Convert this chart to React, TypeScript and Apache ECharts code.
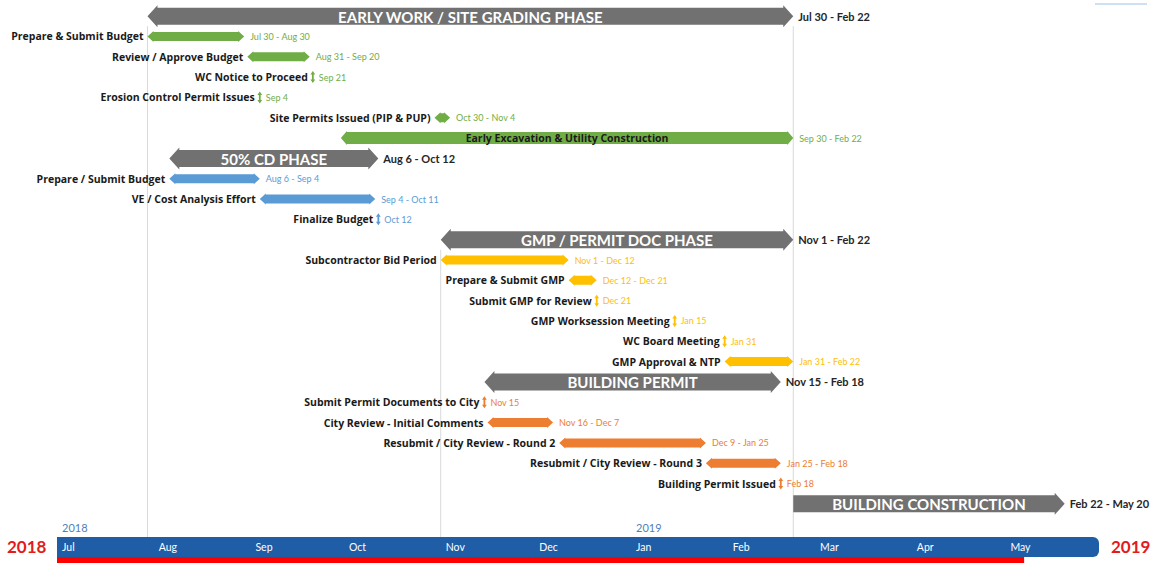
import React, { useEffect, useRef } from "react";
import * as echarts from "echarts";

const MONTH_NAMES = ["Jan", "Feb", "Mar", "Apr", "May", "Jun", "Jul", "Aug", "Sep", "Oct", "Nov", "Dec"];

const taskNames = [
  "EARLY WORK / SITE GRADING PHASE",
  "Prepare & Submit Budget",
  "Review / Approve Budget",
  "WC Notice to Proceed",
  "Erosion Control Permit Issues",
  "Site Permits Issued (PIP & PUP)",
  "Early Excavation & Utility Construction",
  "50% CD PHASE",
  "Prepare / Submit Budget",
  "VE / Cost Analysis Effort",
  "Finalize Budget",
  "GMP / PERMIT DOC PHASE",
  "Subcontractor Bid Period",
  "Prepare & Submit GMP",
  "Submit GMP for Review",
  "GMP Worksession Meeting",
  "WC Board Meeting",
  "GMP Approval & NTP",
  "BUILDING PERMIT",
  "Submit Permit Documents to City",
  "City Review - Initial Comments",
  "Resubmit / City Review - Round 2",
  "Resubmit / City Review - Round 3",
  "Building Permit Issued",
  "BUILDING CONSTRUCTION",
];

const taskStarts = [
  "2018-07-30", "2018-07-30", "2018-08-31", "2018-09-21", "2018-09-04", "2018-10-30", "2018-09-30",
  "2018-08-06", "2018-08-06", "2018-09-04", "2018-10-12",
  "2018-11-01", "2018-11-01", "2018-12-12", "2018-12-21", "2019-01-15", "2019-01-31", "2019-01-31",
  "2018-11-15", "2018-11-15", "2018-11-16", "2018-12-09", "2019-01-25", "2019-02-18",
  "2019-02-22",
];

const taskEnds = [
  "2019-02-22", "2018-08-30", "2018-09-20", "2018-09-21", "2018-09-04", "2018-11-04", "2019-02-22",
  "2018-10-12", "2018-09-04", "2018-10-11", "2018-10-12",
  "2019-02-22", "2018-12-12", "2018-12-21", "2018-12-21", "2019-01-15", "2019-01-31", "2019-02-22",
  "2019-02-18", "2018-11-15", "2018-12-07", "2019-01-25", "2019-02-18", "2019-02-18",
  "2019-05-20",
];

// phase | task | milestone | inner | final
const taskKinds = [
  "phase", "task", "task", "milestone", "milestone", "task", "inner",
  "phase", "task", "task", "milestone",
  "phase", "task", "task", "milestone", "milestone", "milestone", "task",
  "phase", "milestone", "task", "task", "task", "milestone",
  "final",
];

const taskGroups = [
  "gray", "green", "green", "green", "green", "green", "green",
  "gray", "blue", "blue", "blue",
  "gray", "yellow", "yellow", "yellow", "yellow", "yellow", "yellow",
  "gray", "orange", "orange", "orange", "orange", "orange",
  "gray",
];

const groupColors: Record<string, string> = {
  gray: "#717171",
  green: "#70AD47",
  blue: "#5B9BD5",
  yellow: "#FFC000",
  orange: "#ED7D31",
};

const markerDates = ["2018-07-30", "2018-11-01", "2019-02-22"];
const markerStartRows = [0, 11, 0];

const timelineStart = "2018-07-01";
const timelineEnd = "2019-05-31";
const progressDate = "2019-05-07";

const monthTicks = [
  "2018-07-01", "2018-08-01", "2018-09-01", "2018-10-01", "2018-11-01", "2018-12-01",
  "2019-01-01", "2019-02-01", "2019-03-01", "2019-04-01", "2019-05-01",
];
const monthLabels = ["Jul", "Aug", "Sep", "Oct", "Nov", "Dec", "Jan", "Feb", "Mar", "Apr", "May"];
const yearTicks = ["2018-07-01", "2019-01-01"];
const yearLabels = ["2018", "2019"];

const FONT = "Lato, 'Liberation Sans', sans-serif";
const LABEL_FONT = "'Open Sans', Lato, sans-serif";

function toMs(s: string): number {
  const [y, m, d] = s.split("-").map(Number);
  return new Date(y, m - 1, d).getTime();
}
function fmt(s: string): string {
  const [, m, d] = s.split("-").map(Number);
  return MONTH_NAMES[m - 1] + " " + d;
}

export default function App() {
  const ref = useRef<HTMLDivElement>(null);

  useEffect(() => {
    if (!ref.current) return;
    const chart = echarts.init(ref.current, undefined, { renderer: "svg" });

    const taskData = taskNames.map((_, i) => [i, toMs(taskStarts[i]), toMs(taskEnds[i])]);
    const markerData = markerDates.map((d, i) => [markerStartRows[i], toMs(d)]);

    const leftLabel = (x: number, y: number, text: string) => ({
      type: "text", x, y,
      style: { text, align: "right", verticalAlign: "middle", fill: "#1a1a1a", fontSize: 10.5, fontWeight: "bold", fontFamily: LABEL_FONT },
    });
    const dateLabel = (x: number, y: number, text: string, color: string) => ({
      type: "text", x, y,
      style: { text, align: "left", verticalAlign: "middle", fill: color, fontSize: 9, fontFamily: FONT },
    });

    const renderTask = (params: any, api: any) => {
      const i = params.dataIndex;
      const s = api.coord([api.value(1), i]);
      const e = api.coord([api.value(2), i]);
      const y = s[1];
      const x0 = s[0];
      const x1 = e[0];
      const kind = taskKinds[i];
      const color = groupColors[taskGroups[i]];
      const children: any[] = [];
      const dateText =
        kind === "milestone" ? fmt(taskStarts[i]) : fmt(taskStarts[i]) + " - " + fmt(taskEnds[i]);

      if (kind === "milestone") {
        const pts = [
          [x0, y - 6], [x0 + 2.4, y - 2.5], [x0 + 0.9, y - 2.5], [x0 + 0.9, y + 2.5], [x0 + 2.4, y + 2.5],
          [x0, y + 6], [x0 - 2.4, y + 2.5], [x0 - 0.9, y + 2.5], [x0 - 0.9, y - 2.5], [x0 - 2.4, y - 2.5],
        ];
        children.push({ type: "polygon", shape: { points: pts }, style: { fill: color } });
        children.push(leftLabel(x0 - 5, y, taskNames[i]));
        children.push(dateLabel(x0 + 6, y, dateText, color));
      } else if (kind === "phase" || kind === "final") {
        const H = 11, sh = 8.5, h = 10;
        const pts =
          kind === "phase"
            ? [
                [x0, y], [x0 + h, y - H], [x0 + h, y - sh], [x1 - h, y - sh], [x1 - h, y - H], [x1, y],
                [x1 - h, y + H], [x1 - h, y + sh], [x0 + h, y + sh], [x0 + h, y + H],
              ]
            : [
                [x0, y - sh], [x1 - h, y - sh], [x1 - h, y - H], [x1, y], [x1 - h, y + H], [x1 - h, y + sh], [x0, y + sh],
              ];
        children.push({ type: "polygon", shape: { points: pts }, style: { fill: color } });
        children.push({
          type: "text", x: (x0 + x1) / 2, y: y + 0.5,
          style: { text: taskNames[i], align: "center", verticalAlign: "middle", fill: "#ffffff", fontSize: 15, fontWeight: "bold", fontFamily: FONT },
        });
        children.push({
          type: "text", x: x1 + 5, y,
          style: { text: dateText, align: "left", verticalAlign: "middle", fill: "#262626", fontSize: 11, fontWeight: "bold", fontFamily: FONT },
        });
      } else {
        const inner = kind === "inner";
        const H = inner ? 7 : 5.5, sh = inner ? 6 : 4.5, h = 6;
        const pts = [
          [x0, y], [x0 + h, y - H], [x0 + h, y - sh], [x1 - h, y - sh], [x1 - h, y - H], [x1, y],
          [x1 - h, y + H], [x1 - h, y + sh], [x0 + h, y + sh], [x0 + h, y + H],
        ];
        children.push({ type: "polygon", shape: { points: pts }, style: { fill: color } });
        if (inner) {
          children.push({
            type: "text", x: (x0 + x1) / 2, y,
            style: { text: taskNames[i], align: "center", verticalAlign: "middle", fill: "#1a1a1a", fontSize: 10.5, fontWeight: "bold", fontFamily: LABEL_FONT },
          });
        } else {
          children.push(leftLabel(x0 - 4, y, taskNames[i]));
        }
        children.push(dateLabel(x1 + 6, y, dateText, color));
      }
      return { type: "group", children };
    };

    const renderMarker = (params: any, api: any) => {
      const top = api.coord([api.value(1), api.value(0)]);
      const bottomY = api.getHeight() - 26;
      return {
        type: "line",
        shape: { x1: top[0], y1: top[1] + 10, x2: top[0], y2: bottomY },
        style: { stroke: "#d9d9d9", lineWidth: 1 },
      };
    };

    const tlMin = toMs(timelineStart);
    const tlMax = toMs(timelineEnd);

    const renderTimeline = (params: any, api: any) => {
      const a = api.coord([tlMin, 0]);
      const b = api.coord([tlMax, 0]);
      const p = api.coord([toMs(progressDate), 0]);
      const top = a[1] - 20;
      return {
        type: "group",
        children: [
          {
            type: "rect",
            shape: { x: a[0], y: top, width: b[0] - a[0], height: 20, r: [0, 6, 6, 0] },
            style: { fill: "#1F5DA6" },
          },
          {
            type: "rect",
            shape: { x: a[0], y: top + 20, width: p[0] - a[0], height: 7 },
            style: { fill: "#FF0000" },
          },
        ],
      };
    };

    const monthData = monthTicks.map((d, i) => [toMs(d), i]);
    const renderMonth = (params: any, api: any) => {
      const i = params.dataIndex;
      const c = api.coord([api.value(0), 0.5]);
      return {
        type: "text", x: c[0] + 5, y: c[1],
        style: { text: monthLabels[i], align: "left", verticalAlign: "middle", fill: "#ffffff", fontSize: 10.5, fontFamily: FONT },
      };
    };
    const yearData = yearTicks.map((d, i) => [toMs(d), i]);
    const renderYear = (params: any, api: any) => {
      const i = params.dataIndex;
      const c = api.coord([api.value(0), 1]);
      return {
        type: "text", x: c[0] + 5, y: c[1] - 10,
        style: { text: yearLabels[i], align: "left", verticalAlign: "middle", fill: "#4F7FB5", fontSize: 11, fontFamily: FONT },
      };
    };

    chart.setOption({
      animation: false,
      backgroundColor: "#ffffff",
      grid: [
        { left: 57, right: 55, top: 6, bottom: 49 },
        { left: 57, right: 55, top: 537, height: 20 },
      ],
      xAxis: [
        { type: "time", gridIndex: 0, min: tlMin, max: tlMax, show: false },
        { type: "time", gridIndex: 1, min: tlMin, max: tlMax, show: false },
      ],
      yAxis: [
        { type: "category", gridIndex: 0, data: taskNames, inverse: true, show: false },
        { type: "value", gridIndex: 1, min: 0, max: 1, show: false },
      ],
      graphic: [
        {
          type: "text", left: 7, top: 538,
          style: { text: "2018", fill: "#E31B1B", fontSize: 17, fontWeight: "bold", fontFamily: FONT },
        },
        {
          type: "text", left: 1111, top: 538,
          style: { text: "2019", fill: "#E31B1B", fontSize: 17, fontWeight: "bold", fontFamily: FONT },
        },
        {
          type: "line", shape: { x1: 1095, y1: 4, x2: 1147, y2: 4 },
          style: { stroke: "#9DC3E6", lineWidth: 1 },
        },
      ],
      series: [
        {
          type: "custom", xAxisIndex: 0, yAxisIndex: 0, renderItem: renderMarker,
          data: markerData, encode: { x: 1, y: 0 }, z: 1, silent: true,
        },
        {
          type: "custom", xAxisIndex: 0, yAxisIndex: 0, renderItem: renderTask,
          data: taskData, encode: { x: [1, 2], y: 0 }, z: 5, silent: true,
        },
        {
          type: "custom", xAxisIndex: 1, yAxisIndex: 1, renderItem: renderTimeline,
          data: [[tlMin, 0]], encode: { x: 0, y: 1 }, z: 2, silent: true,
        },
        {
          type: "custom", xAxisIndex: 1, yAxisIndex: 1, renderItem: renderMonth,
          data: monthData, encode: { x: 0 }, z: 6, silent: true,
        },
        {
          type: "custom", xAxisIndex: 1, yAxisIndex: 1, renderItem: renderYear,
          data: yearData, encode: { x: 0 }, z: 6, silent: true,
        },
      ],
    });

    return () => chart.dispose();
  }, []);

  return (
    <div
      ref={ref}
      style={{ position: "absolute", left: 0, top: 0, width: 1154, height: 563 }}
    />
  );
}
